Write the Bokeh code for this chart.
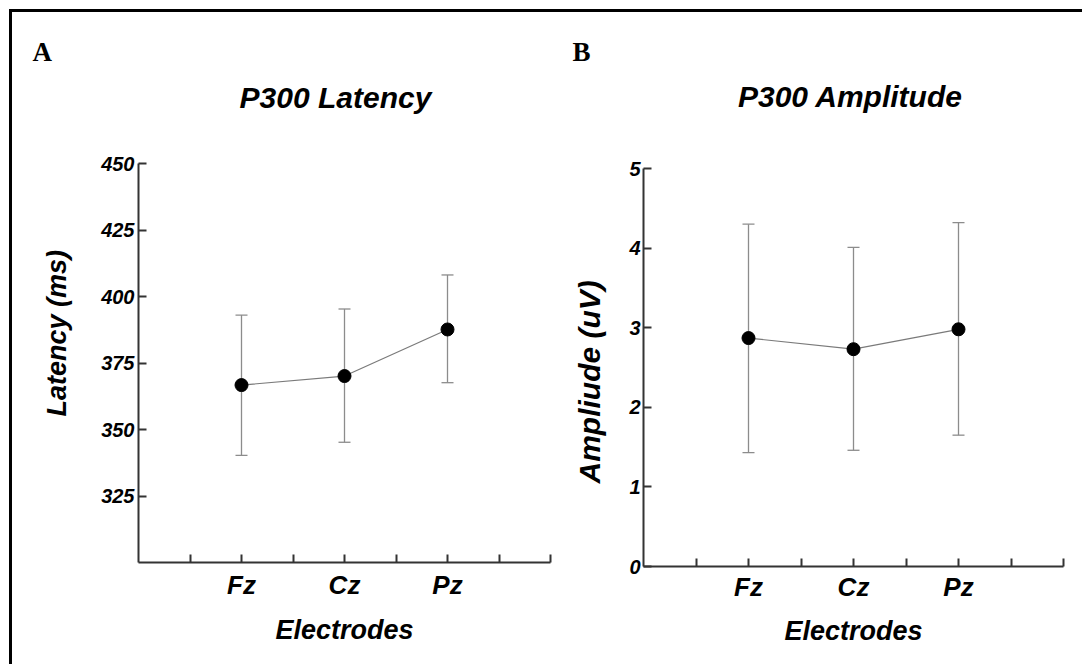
from bokeh.plotting import figure
from bokeh.models import (Range1d, FixedTicker, Whisker, ColumnDataSource, TeeHead,
                          Title, Label, Div)
from bokeh.layouts import row, column
from bokeh.embed import file_html
from bokeh.resources import INLINE

# ---------------- data ----------------
electrodes = ["Fz", "Cz", "Pz"]

latency_mean = [366.7, 370.1, 387.6]
latency_upper = [393.0, 395.3, 408.1]
latency_lower = [340.3, 345.2, 367.6]
latency_ticks = [325, 350, 375, 400, 425, 450]

amplitude_mean = [2.87, 2.73, 2.98]
amplitude_upper = [4.30, 4.01, 4.32]
amplitude_lower = [1.43, 1.46, 1.65]
amplitude_ticks = [0, 1, 2, 3, 4, 5]

SANS = "Liberation Sans"
SERIF = "Liberation Serif"
AXIS_COLOR = "#333333"
BAR_COLOR = "#8c8c8c"
LINE_COLOR = "#7a7a7a"

WA, WB = 540, 530
HEADER_W, HEADER_H = WA + WB, 113
CHART_H = 539


def no_frame_align(p):
    try:
        p.frame_align = False
    except Exception:
        pass


def make_panel(width, mb_left, mb_right, mb_top, mb_bottom,
               y_start, y_end, y_ticks, means, uppers, lowers,
               y_label_std, xtick_standoff, xlabel_standoff, ylabel, ylabel_size,
               ylabel_offset, ylabel_valign, ylabel_standoff):
    n = len(electrodes)
    xs = [2 * (i + 1) for i in range(n)]
    x_end = 2 * (n + 1)
    src = ColumnDataSource(dict(x=xs, mean=means, upper=uppers, lower=lowers))

    p = figure(width=width, height=CHART_H, output_backend="svg",
               toolbar_location=None, title_location=None,
               x_range=Range1d(0, x_end), y_range=Range1d(y_start, y_end),
               min_border_left=mb_left, min_border_right=mb_right,
               min_border_top=mb_top, min_border_bottom=mb_bottom)
    no_frame_align(p)
    p.outline_line_color = None
    p.grid.visible = False
    p.background_fill_color = "white"
    p.border_fill_color = "white"

    # x axis: ticks at every unit, labels only at electrode positions
    xa = p.xaxis[0]
    xa.ticker = FixedTicker(ticks=list(range(1, x_end + 1)))
    overrides = {k: "" for k in range(1, x_end + 1)}
    for xv, name in zip(xs, electrodes):
        overrides[xv] = name
    xa.major_label_overrides = overrides
    xa.axis_label = "Electrodes"
    xa.axis_label_standoff = xlabel_standoff
    xa.axis_label_text_font_size = "27px"
    xa.major_label_text_font_size = "26px"
    xa.major_label_standoff = xtick_standoff

    ya = p.yaxis[0]
    ya.ticker = FixedTicker(ticks=y_ticks)
    ya.major_label_text_font_size = "20px"
    ya.major_label_standoff = y_label_std

    for ax in (xa, ya):
        ax.axis_label_text_font = SANS
        ax.axis_label_text_font_style = "bold italic"
        ax.axis_label_text_color = "black"
        ax.major_label_text_font = SANS
        ax.major_label_text_font_style = "bold italic"
        ax.major_label_text_color = "black"
        ax.axis_line_color = AXIS_COLOR
        ax.axis_line_width = 2
        ax.major_tick_line_color = AXIS_COLOR
        ax.major_tick_line_width = 2
        ax.major_tick_in = 8
        ax.major_tick_out = 0
        ax.minor_tick_line_color = None

    # y axis title (placed in the left panel so that it can be shifted)
    p.add_layout(Title(text=ylabel, align="left", offset=ylabel_offset,
                       vertical_align=ylabel_valign, standoff=ylabel_standoff,
                       text_font=SANS, text_font_style="bold italic",
                       text_font_size=ylabel_size, text_color="black"), "left")

    w = Whisker(source=src, base="x", upper="upper", lower="lower",
                line_color=BAR_COLOR, line_width=1.3, level="underlay",
                upper_head=TeeHead(size=12, line_color=BAR_COLOR, line_width=1.3),
                lower_head=TeeHead(size=12, line_color=BAR_COLOR, line_width=1.3))
    p.add_layout(w)
    p.line("x", "mean", source=src, line_color=LINE_COLOR, line_width=1.2)
    p.scatter("x", "mean", source=src, size=13, fill_color="black",
              line_color="black")
    return p


pA = make_panel(WA, 126, 2, 38, 102, 300, 450, latency_ticks,
                latency_mean, latency_upper, latency_lower, 4, 7, 12,
                "Latency (ms)", "27px", 146, "bottom", 53)
pB = make_panel(WB, 91, 19, 43, 98, 0, 5, amplitude_ticks,
                amplitude_mean, amplitude_upper, amplitude_lower, 3, 5, 11,
                "Ampliude (uV)", "30px", 83, "middle", 39)

# header strip with panel letters and chart titles (pixel-like coordinates)
header = figure(width=HEADER_W, height=HEADER_H, output_backend="svg",
                toolbar_location=None, title_location=None,
                x_range=Range1d(0, HEADER_W),
                y_range=Range1d(HEADER_H, 0), min_border=0)
no_frame_align(header)
header.axis.visible = False
header.grid.visible = False
header.outline_line_color = None
header.background_fill_color = "white"
header.border_fill_color = "white"


def add_text(x, y, text, font, style, size, align="left"):
    header.add_layout(Label(x=x, y=y, text=text, text_font=font,
                            text_font_style=style, text_font_size=size,
                            text_align=align, text_baseline="middle",
                            text_color="black"))


add_text(20, 39.7, "A", SERIF, "bold", "27px")
add_text(323, 85.2, "P300 Latency", SANS, "bold italic", "30px", align="center")
add_text(560, 39.7, "B", SERIF, "bold", "27px")
add_text(838, 84.2, "P300 Amplitude", SANS, "bold italic", "30px", align="center")

top_line = Div(text="", width=HEADER_W + 3, height=3, margin=0,
               styles={"background-color": "black"})
left_line = Div(text="", width=3, height=HEADER_H + CHART_H, margin=0,
                styles={"background-color": "black"})

body = column(header, row(pA, pB, spacing=0), spacing=0)
layout = column(top_line, row(left_line, body, spacing=0), spacing=0,
                margin=(9, 0, 0, 9))

open("out.html", "w").write(file_html(layout, INLINE))
